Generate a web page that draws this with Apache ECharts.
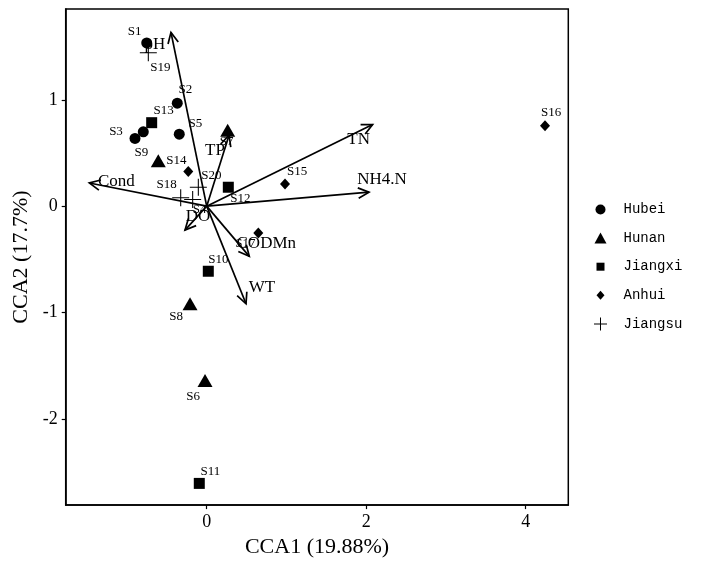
<!DOCTYPE html>
<html>
<head>
<meta charset="utf-8">
<script src="https://cdn.jsdelivr.net/npm/echarts@6/dist/echarts.min.js"></script>
<style>html,body{margin:0;padding:0;background:#fff}#c{width:703px;height:563px}</style>
</head>
<body>
<div id="c"></div>
<script>
// ---- data ----
const hubeiNames = ['S1','S2','S3','S5','S9'];
const hubeiX = [-0.752,-0.369,-0.899,-0.344,-0.795];
const hubeiY = [1.535,0.968,0.637,0.677,0.699];

const hunanNames = ['S6','S7','S8','S14'];
const hunanX = [-0.021,0.263,-0.209,-0.607];
const hunanY = [-1.640,0.714,-0.918,0.426];

const jiangxiNames = ['S10','S11','S12','S13'];
const jiangxiX = [0.020,-0.093,0.271,-0.690];
const jiangxiY = [-0.612,-2.607,0.178,0.785];

const anhuiNames = ['S15','S16','S17','S20'];
const anhuiX = [0.982,4.242,0.647,-0.231];
const anhuiY = [0.209,0.757,-0.253,0.327];

const jiangsuNames = ['S18','S19','','S4'];
const jiangsuX = [-0.326,-0.732,-0.105,-0.176];
const jiangsuY = [0.079,1.442,0.178,0.063];

const envNames = ['pH','TP','Cond','TN','NH4.N','CODMn','WT','DO'];
const envX = [-0.448,0.280,-1.472,2.080,2.035,0.534,0.493,-0.272];
const envY = [1.634,0.667,0.218,0.767,0.132,-0.472,-0.918,-0.225];

const xTicks = [0,2,4];
const yTicks = [-2,-1,0,1];

// ---- layout / style (pixel offsets of text labels) ----
const siteLabelOffset = {
  S1:[-12,-11], S19:[12,15], S2:[8,-14], S13:[12,-12], S5:[16,-11], S3:[-19,-7],
  S9:[-2,21], S14:[18,0], S20:[23,4], S18:[-14,-13], S12:[12,11], S15:[12,-12],
  S16:[6,-13], S10:[10,-12], S8:[-14,13], S6:[-12,16], S11:[11,-12], S7:[-1,11],
  S17:[-13,11], S4:[7,10]
};
const envLabelOffset = {
  'pH':[-16,12], 'TP':[-14,15], 'Cond':[27,-1], 'TN':[-14,15], 'NH4.N':[13,-13],
  'CODMn':[17,-13], 'WT':[16,-16], 'DO':[13,-14]
};

const SERIF = '"Liberation Serif","Times New Roman",serif';
const plusPath = 'path://M0,7.5h16v1h-16z M7.5,0h1v16h-1z';

function pts(xs, ys){ return xs.map((x,i)=>[x, ys[i]]); }

const groups = [
  {name:'Hubei', names:hubeiNames, xs:hubeiX, ys:hubeiY, symbol:'circle', size:11,
   icon:'path://M0,0 M13,13 M1.5,6.5a5,5 0 1,0 10,0a5,5 0 1,0 -10,0z'},
  {name:'Hunan', names:hunanNames, xs:hunanX, ys:hunanY, symbol:'triangle', size:[15,13],
   icon:'path://M0,0 M13,13 M0.5,12 L6.5,1 L12.5,12z'},
  {name:'Jiangxi', names:jiangxiNames, xs:jiangxiX, ys:jiangxiY, symbol:'rect', size:11,
   icon:'path://M0,0 M13,13 M2.5,2.5h8v8h-8z'},
  {name:'Anhui', names:anhuiNames, xs:anhuiX, ys:anhuiY, symbol:'diamond', size:[10,11],
   icon:'path://M0,0 M13,13 M6.5,2 L10.5,6.5 L6.5,11 L2.5,6.5z'},
  {name:'Jiangsu', names:jiangsuNames, xs:jiangsuX, ys:jiangsuY, symbol:plusPath, size:17,
   icon:'path://M0,0 M13,13 M0,6h13v1h-13z M6,0h1v13h-1z'}
];

// all site labels
const allSites = [];
groups.forEach(g => g.names.forEach((n,i) => { if(n) allSites.push([g.xs[i], g.ys[i], n]); }));

const series = [];

// site labels (drawn beneath everything)
series.push({
  type:'custom', name:'siteLabels', z:1, silent:true,
  data: allSites.map(d=>[d[0],d[1]]),
  renderItem(params, api){
    const p = api.coord([api.value(0), api.value(1)]);
    const n = allSites[params.dataIndex][2];
    const off = siteLabelOffset[n] || [10,-10];
    return {type:'text', x:p[0]+off[0], y:p[1]+off[1],
      style:{text:n, align:'center', verticalAlign:'middle', font:'13px '+SERIF, fill:'#000'}};
  }
});

// environmental arrows
series.push({
  type:'custom', name:'env', z:2, silent:true, clip:false,
  data: pts(envX, envY),
  renderItem(params, api){
    const o = api.coord([0,0]);
    const t = api.coord([api.value(0), api.value(1)]);
    const ang = Math.atan2(t[1]-o[1], t[0]-o[0]);
    const L = 12, a = 0.45;
    const p1 = [t[0]-L*Math.cos(ang-a), t[1]-L*Math.sin(ang-a)];
    const p2 = [t[0]-L*Math.cos(ang+a), t[1]-L*Math.sin(ang+a)];
    const n = envNames[params.dataIndex];
    const off = envLabelOffset[n];
    return {type:'group', children:[
      {type:'line', shape:{x1:o[0],y1:o[1],x2:t[0],y2:t[1]}, style:{stroke:'#000', lineWidth:1.7}},
      {type:'polyline', shape:{points:[p1,t,p2]}, style:{stroke:'#000', fill:null, lineWidth:1.7}},
      {type:'text', x:t[0]+off[0], y:t[1]+off[1],
        style:{text:n, align:'center', verticalAlign:'middle', font:'17px '+SERIF, fill:'#000'}}
    ]};
  }
});

groups.forEach(g => {
  series.push({
    type:'scatter', name:g.name, z:3,
    symbol:g.symbol, symbolSize:g.size,
    itemStyle:{color:'#000', opacity:1},
    emphasis:{disabled:true},
    data: pts(g.xs, g.ys)
  });
});

const chart = echarts.init(document.getElementById('c'), null, {renderer:'canvas'});
chart.setOption({
  animation:false,
  backgroundColor:'#fff',
  grid:{left:65.7, right:134.7, top:9, bottom:52, show:true, borderColor:'#000', borderWidth:1.5, containLabel:false},
  xAxis:{
    type:'value', min:-1.768, max:4.534,
    name:'CCA1 (19.88%)', nameLocation:'middle', nameGap:25,
    nameTextStyle:{fontFamily:SERIF, fontSize:22, color:'#000'},
    axisLine:{show:true, onZero:false, lineStyle:{color:'#000', width:1.5}},
    axisTick:{show:true, length:4, lineStyle:{color:'#000', width:1.2}, customValues:xTicks},
    axisLabel:{fontFamily:SERIF, fontSize:18, color:'#000', margin:8, customValues:xTicks},
    splitLine:{show:false}
  },
  yAxis:{
    type:'value', min:-2.811, max:1.854,
    name:'CCA2 (17.7%)', nameLocation:'middle', nameGap:30,
    nameTextStyle:{fontFamily:SERIF, fontSize:22, color:'#000'},
    axisLine:{show:true, onZero:false, lineStyle:{color:'#000', width:1.5}},
    axisTick:{show:true, length:4, lineStyle:{color:'#000', width:1.2}, customValues:yTicks},
    axisLabel:{fontFamily:SERIF, fontSize:18, color:'#000', margin:8, customValues:yTicks},
    splitLine:{show:false}
  },
  legend:{
    orient:'vertical', left:589, top:197.5, itemWidth:36, itemHeight:13, itemGap:14.6,
    symbolKeepAspect:true,
    textStyle:{fontFamily:'"Liberation Mono",monospace', fontSize:14, color:'#000'},
    data: groups.map(g => ({name:g.name, icon:g.icon, itemStyle:{color:'#000'}})),
    selectedMode:false
  },
  series: series
});
</script>
</body>
</html>
